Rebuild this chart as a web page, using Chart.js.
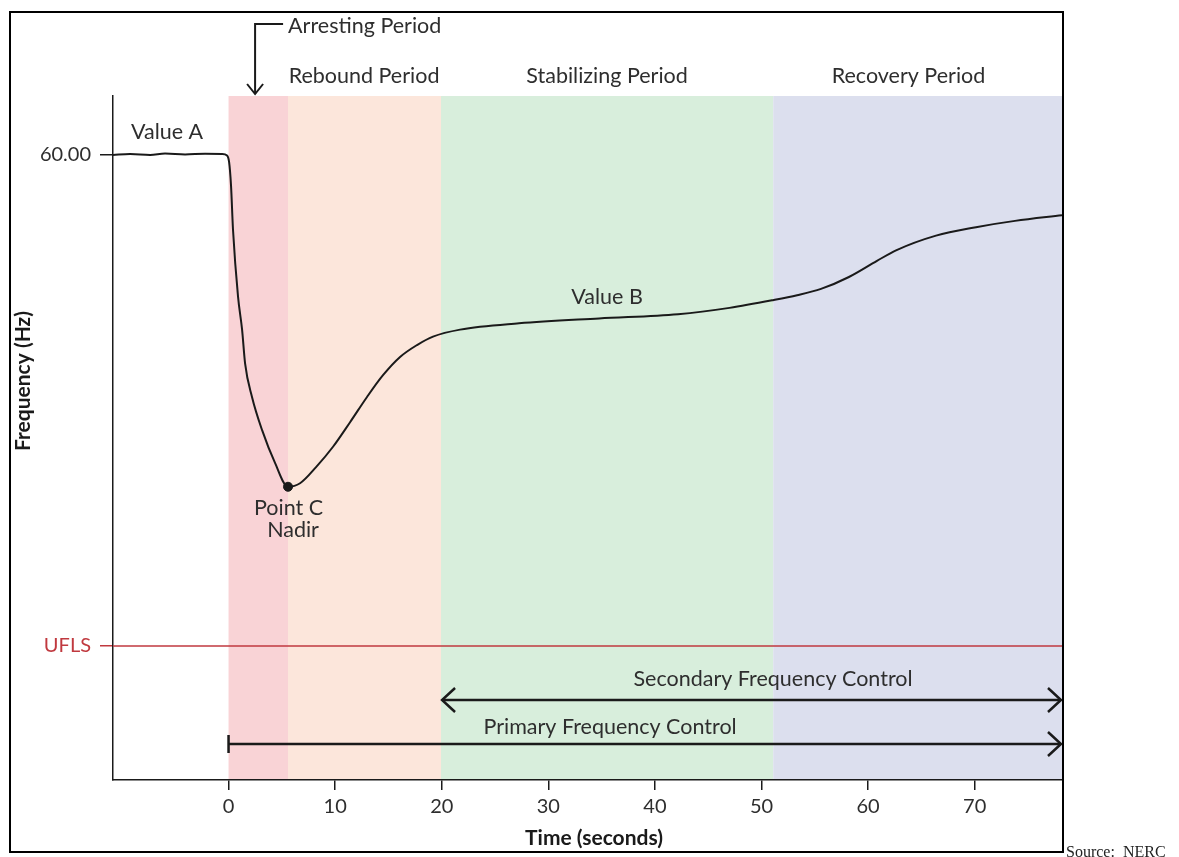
<!DOCTYPE html>
<html>
<head>
<meta charset="utf-8">
<script src="https://cdn.jsdelivr.net/npm/chart.js@4"></script>
<style>
  html, body { margin: 0; padding: 0; background: #fff; }
</style>
</head>
<body>
<canvas id="freqChart" width="1179" height="857"></canvas>
<script>
// frequency response after a generation loss
const timeSec = [-10.84, -9.24, -7.36, -5.96, -4.08, -2.20, -0.61, -0.14, 0.05, 0.23, 0.42, 0.89, 1.27, 1.55, 2.20, 3.14, 4.36, 5.58,
  6.71, 8.21, 9.80, 11.40, 12.99, 14.49, 16.09, 17.68, 19.18, 21.72, 27.25, 34.76, 42.17, 47.0, 51.08,
  53.34, 55.58, 58.2, 60.83, 62.62, 66.37, 70.12, 73.78, 78.19];
const freqHz = [60.000, 60.0014, 60.000, 60.002, 60.0007, 60.0017, 60.0014, 59.9993, 59.990, 59.957, 59.893, 59.798, 59.751, 59.703, 59.655, 59.608, 59.561, 59.527,
  59.532, 59.555, 59.584, 59.619, 59.655, 59.686, 59.712, 59.729, 59.741, 59.751, 59.760, 59.767, 59.773, 59.782, 59.793,
  59.800, 59.809, 59.826, 59.849, 59.864, 59.885, 59.897, 59.906, 59.914];

const xTicks = [0, 10, 20, 30, 40, 50, 60, 70];
const yTickValues = [59.30, 60.00];
const yTickLabels = ['UFLS', '60.00'];
const uflsHz = 59.30;
const nadir = [{ x: 5.58, y: 59.527 }];

const periodNames = ['Arresting Period', 'Rebound Period', 'Stabilizing Period', 'Recovery Period'];
const periodStart = [0, 5.58, 19.93, 51.1];
const periodEnd = [5.58, 19.93, 51.1, 78.19];
const periodColors = ['#f9d3d6', '#fce6db', '#d8eedc', '#dcdfee'];

const xMin = -10.84, xMax = 78.19;
const yMin = 59.109, yMax = 60.084;

const FONT = 'Lato, "Open Sans", sans-serif';
const INK = '#1a1a1a';
const TXT = '#2e2e2e';
const RED = '#c0393f';

function chevron(ctx, x, y, dir, len, half) {
  // open arrow head pointing in dir (+1 right, -1 left)
  ctx.beginPath();
  ctx.moveTo(x - dir * len, y - half);
  ctx.lineTo(x, y);
  ctx.lineTo(x - dir * len, y + half);
  ctx.stroke();
}

const decorPlugin = {
  id: 'decor',
  beforeDraw(chart) {
    const { ctx, chartArea: a, scales: { x } } = chart;
    ctx.save();
    periodStart.forEach((s, i) => {
      const x0 = x.getPixelForValue(s), x1 = x.getPixelForValue(periodEnd[i]);
      ctx.fillStyle = periodColors[i];
      ctx.fillRect(x0, a.top, x1 - x0, a.bottom - a.top);
    });
    ctx.restore();
  },
  afterDraw(chart) {
    const { ctx, chartArea: a, scales: { x, y } } = chart;
    ctx.save();
    ctx.fillStyle = TXT;
    ctx.strokeStyle = INK;
    ctx.textBaseline = 'middle';

    // period headings above the plot
    ctx.font = '21.5px ' + FONT;
    ctx.textAlign = 'center';
    ctx.fillText(periodNames[1], x.getPixelForValue(12.71), a.top - 20);
    ctx.fillText(periodNames[2], x.getPixelForValue(35.51), a.top - 20);
    ctx.fillText(periodNames[3], x.getPixelForValue(63.79), a.top - 20);

    // arresting period pointer
    const ax = x.getPixelForValue(2.49);
    ctx.lineWidth = 2;
    ctx.beginPath();
    ctx.moveTo(ax + 28, 24);
    ctx.lineTo(ax, 24);
    ctx.lineTo(ax, a.top - 2);
    ctx.stroke();
    ctx.beginPath();
    ctx.moveTo(ax - 8, a.top - 12);
    ctx.lineTo(ax, a.top - 2);
    ctx.lineTo(ax + 8, a.top - 12);
    ctx.stroke();
    ctx.textAlign = 'left';
    ctx.fillText(periodNames[0], ax + 33, 26);

    // curve annotations
    ctx.textAlign = 'center';
    ctx.fillText('Value A', x.getPixelForValue(-5.77), y.getPixelForValue(60.0328));
    ctx.fillText('Value B', x.getPixelForValue(35.51), y.getPixelForValue(59.7975));
    ctx.fillText('Point C', x.getPixelForValue(5.63), y.getPixelForValue(59.4967));
    ctx.fillText('Nadir', x.getPixelForValue(6.05), y.getPixelForValue(59.4654));

    // control range arrows
    const yS = y.getPixelForValue(59.2230), yP = y.getPixelForValue(59.1603);
    const xs0 = x.getPixelForValue(20.03), xp0 = x.getPixelForValue(0), xe = a.right - 1;
    ctx.lineWidth = 2.5;
    ctx.beginPath();
    ctx.moveTo(xs0, yS); ctx.lineTo(xe, yS);
    ctx.moveTo(xp0, yP); ctx.lineTo(xe, yP);
    ctx.moveTo(xp0, yP - 9); ctx.lineTo(xp0, yP + 9);
    ctx.stroke();
    chevron(ctx, xs0, yS, -1, 13, 12);
    chevron(ctx, xe, yS, 1, 13, 12);
    chevron(ctx, xe, yP, 1, 13, 12);
    ctx.font = '21.5px ' + FONT;
    ctx.fillText('Secondary Frequency Control', x.getPixelForValue(51.08), y.getPixelForValue(59.2529));
    ctx.fillText('Primary Frequency Control', x.getPixelForValue(35.79), y.getPixelForValue(59.1845));

    // axis titles (both sit a little off the plot centre in the original)
    ctx.fillStyle = INK;
    ctx.font = 'bold 21px ' + FONT;
    ctx.fillText('Time (seconds)', 594, 838);
    ctx.save();
    ctx.translate(23, 381);
    ctx.rotate(-Math.PI / 2);
    ctx.fillText('Frequency (Hz)', 0, 0);
    ctx.restore();

    // outer frame + source note
    ctx.lineWidth = 2;
    ctx.strokeStyle = '#000';
    ctx.strokeRect(10, 12, 1053, 840);
    ctx.fillStyle = '#222';
    ctx.font = '16px "Liberation Serif", serif';
    ctx.textAlign = 'left';
    ctx.textBaseline = 'alphabetic';
    ctx.fillText('Source:  NERC', 1066, 857);
    ctx.restore();
  }
};

new Chart(document.getElementById('freqChart'), {
  type: 'line',
  data: {
    datasets: [
      {
        label: 'UFLS',
        data: [{ x: xMin, y: uflsHz }, { x: xMax, y: uflsHz }],
        borderColor: RED, borderWidth: 1.6, pointRadius: 0
      },
      {
        label: 'Frequency',
        data: timeSec.map((t, i) => ({ x: t, y: freqHz[i] })),
        borderColor: INK, borderWidth: 2, pointRadius: 0,
        cubicInterpolationMode: 'monotone'
      },
      {
        label: 'Nadir',
        data: nadir,
        showLine: false, pointRadius: 4.5,
        pointBackgroundColor: INK, pointBorderColor: INK
      }
    ]
  },
  options: {
    responsive: false,
    animation: false,
    events: [],
    layout: { padding: { left: 10, right: 117, top: 96, bottom: 0 } },
    plugins: { legend: { display: false }, tooltip: { enabled: false } },
    scales: {
      x: {
        type: 'linear', min: xMin, max: xMax,
        afterFit: s => { s.height = 77; },
        afterBuildTicks: s => { s.ticks = xTicks.map(v => ({ value: v })); },
        ticks: { color: TXT, font: { family: FONT, size: 20 }, padding: 5, maxRotation: 0 },
        grid: { drawOnChartArea: false, drawTicks: true, tickLength: 10, color: INK, lineWidth: 1.5 },
        border: { color: INK, width: 1.5 }
      },
      y: {
        min: yMin, max: yMax,
        afterFit: s => { s.width = 103; },
        afterBuildTicks: s => { s.ticks = yTickValues.map(v => ({ value: v })); },
        ticks: {
          callback: (v, i) => yTickLabels[i],
          color: ctx => ctx.index === 0 ? RED : TXT,
          font: { family: FONT, size: 20 }, padding: 9
        },
        grid: {
          drawOnChartArea: false, drawTicks: true, tickLength: 13, lineWidth: 1.5,
          color: ctx => ctx.index === 0 ? RED : INK
        },
        border: { color: INK, width: 1.5 }
      }
    }
  },
  plugins: [decorPlugin]
});
</script>
</body>
</html>
